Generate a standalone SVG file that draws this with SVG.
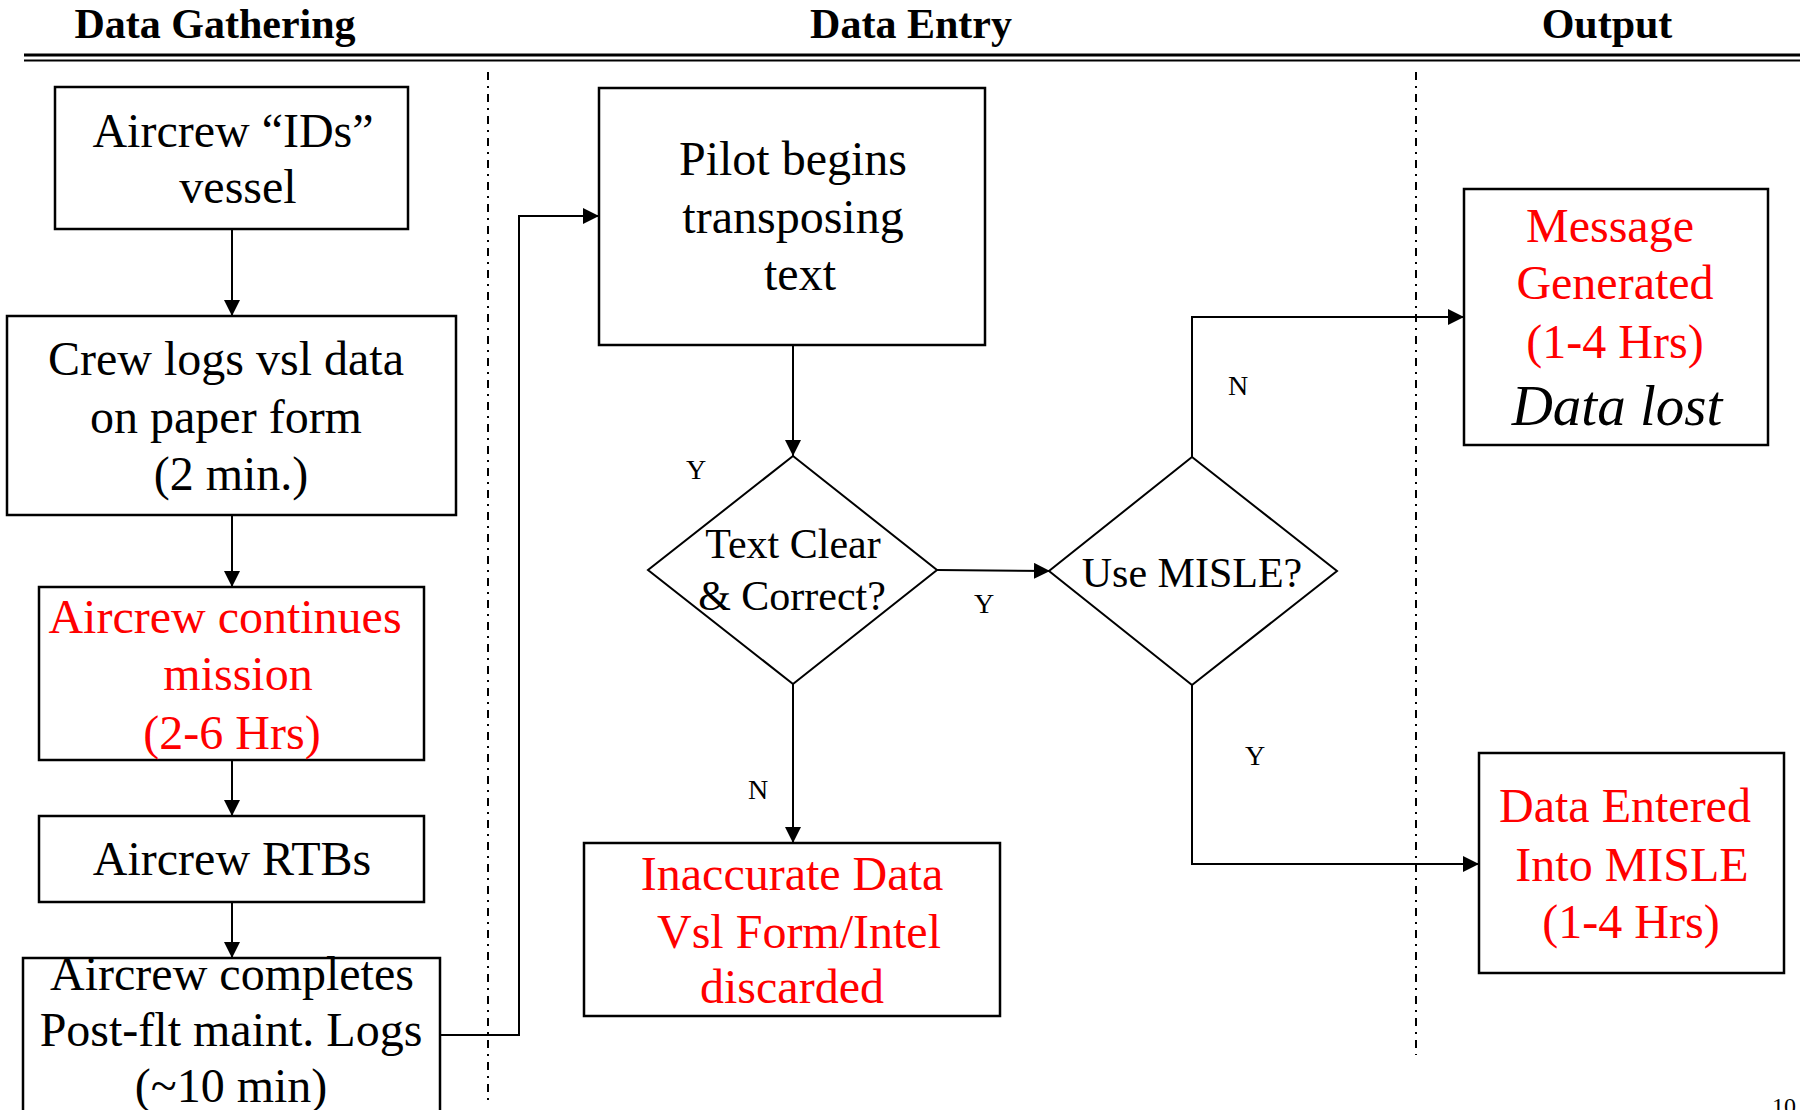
<svg xmlns="http://www.w3.org/2000/svg" width="1800" height="1110" viewBox="0 0 1800 1110">
<style>
.box{fill:#fff;stroke:#000;stroke-width:2.5}
.dia{fill:#fff;stroke:#000;stroke-width:2}
.t{font-family:"Liberation Serif","Times New Roman",serif;font-size:48px;fill:#000;text-anchor:middle}
.r{fill:#ff0000}
.d{font-family:"Liberation Serif","Times New Roman",serif;font-size:42px;fill:#000;text-anchor:middle}
.h{font-family:"Liberation Serif","Times New Roman",serif;font-size:42px;font-weight:bold;fill:#000;text-anchor:middle}
.lbl{font-family:"Liberation Serif","Times New Roman",serif;font-size:28px;fill:#000;text-anchor:middle}
.c{fill:none;stroke:#000;stroke-width:2}
.sep{stroke:#000;stroke-width:2;stroke-dasharray:8 6 2 6;fill:none}
</style>
<defs>
<marker id="ah" viewBox="0 0 10 10" refX="10" refY="5" markerWidth="16" markerHeight="16" markerUnits="userSpaceOnUse" orient="auto">
<path d="M0,0 L10,5 L0,10 Z" fill="#000"/>
</marker>
</defs>
<rect width="1800" height="1110" fill="#fff"/>
<g id="headers">
<text class="h" x="215" y="38">Data Gathering</text>
<text class="h" x="911" y="38">Data Entry</text>
<text class="h" x="1607" y="38">Output</text>
<line x1="24" y1="55" x2="1800" y2="55" stroke="#000" stroke-width="3"/>
<line x1="24" y1="60.5" x2="1800" y2="60.5" stroke="#000" stroke-width="2"/>
</g>
<g id="separators">
<line class="sep" x1="488" y1="72" x2="488" y2="1100"/>
<line class="sep" x1="1416" y1="72" x2="1416" y2="1055"/>
</g>
<g id="connectors">
<line class="c" x1="232" y1="229" x2="232" y2="316" marker-end="url(#ah)"/>
<line class="c" x1="232" y1="515" x2="232" y2="587" marker-end="url(#ah)"/>
<line class="c" x1="232" y1="760" x2="232" y2="816" marker-end="url(#ah)"/>
<line class="c" x1="232" y1="902" x2="232" y2="958" marker-end="url(#ah)"/>
<polyline class="c" points="440,1035 519,1035 519,216 599,216" marker-end="url(#ah)"/>
<line class="c" x1="793" y1="345" x2="793" y2="456" marker-end="url(#ah)"/>
<line class="c" x1="937" y1="570" x2="1050" y2="571" marker-end="url(#ah)"/>
<line class="c" x1="793" y1="684" x2="793" y2="843" marker-end="url(#ah)"/>
<polyline class="c" points="1192,457 1192,317 1464,317" marker-end="url(#ah)"/>
<polyline class="c" points="1192,685 1192,864 1479,864" marker-end="url(#ah)"/>
<text class="lbl" x="696" y="479">Y</text>
<text class="lbl" x="984" y="613">Y</text>
<text class="lbl" x="758" y="799">N</text>
<text class="lbl" x="1238" y="395">N</text>
<text class="lbl" x="1255" y="765">Y</text>
</g>
<g id="n1">
<rect class="box" x="55" y="87" width="353" height="142"/>
<text class="t" x="233" y="147">Aircrew “IDs”</text>
<text class="t" x="238" y="203">vessel</text>
</g>
<g id="n2">
<rect class="box" x="7" y="316" width="449" height="199"/>
<text class="t" x="226" y="375">Crew logs vsl data</text>
<text class="t" x="226" y="433">on paper form</text>
<text class="t" x="231" y="490">(2 min.)</text>
</g>
<g id="n3">
<rect class="box" x="39" y="587" width="385" height="173"/>
<text class="t r" x="225" y="633">Aircrew continues</text>
<text class="t r" x="238" y="690">mission</text>
<text class="t r" x="232" y="749">(2-6 Hrs)</text>
</g>
<g id="n4">
<rect class="box" x="39" y="816" width="385" height="86"/>
<text class="t" x="232" y="875">Aircrew RTBs</text>
</g>
<g id="n5">
<rect class="box" x="23" y="958" width="417" height="180"/>
<text class="t" x="232" y="990">Aircrew completes</text>
<text class="t" x="231" y="1046">Post-flt maint. Logs</text>
<text class="t" x="231" y="1102">(~10 min)</text>
</g>
<g id="n6">
<rect class="box" x="599" y="88" width="386" height="257"/>
<text class="t" x="793" y="175">Pilot begins</text>
<text class="t" x="793" y="233">transposing</text>
<text class="t" x="800" y="290">text</text>
</g>
<g id="n7">
<polygon class="dia" points="793,456 937,570 793,684 648,570"/>
<text class="d" x="793" y="558">Text Clear</text>
<text class="d" x="792" y="610">&amp; Correct?</text>
</g>
<g id="n8">
<polygon class="dia" points="1192,457 1337,571 1192,685 1049,571"/>
<text class="d" x="1192" y="587">Use MISLE?</text>
</g>
<g id="n9">
<rect class="box" x="584" y="843" width="416" height="173"/>
<text class="t r" x="792" y="890">Inaccurate Data</text>
<text class="t r" x="799" y="948">Vsl Form/Intel</text>
<text class="t r" x="792" y="1003">discarded</text>
</g>
<g id="n10">
<rect class="box" x="1464" y="189" width="304" height="256"/>
<text class="t r" x="1610" y="242">Message</text>
<text class="t r" x="1615" y="299">Generated</text>
<text class="t r" x="1615" y="358">(1-4 Hrs)</text>
<text class="t" x="1617" y="425" font-size="57" font-style="italic" style="font-size:57px;font-style:italic">Data lost</text>
</g>
<g id="n11">
<rect class="box" x="1479" y="753" width="305" height="220"/>
<text class="t r" x="1625" y="822">Data Entered</text>
<text class="t r" x="1632" y="881">Into MISLE</text>
<text class="t r" x="1631" y="938">(1-4 Hrs)</text>
</g>
<text x="1772" y="1114" style="font-family:'Liberation Serif',serif;font-size:24px">10</text>
</svg>
